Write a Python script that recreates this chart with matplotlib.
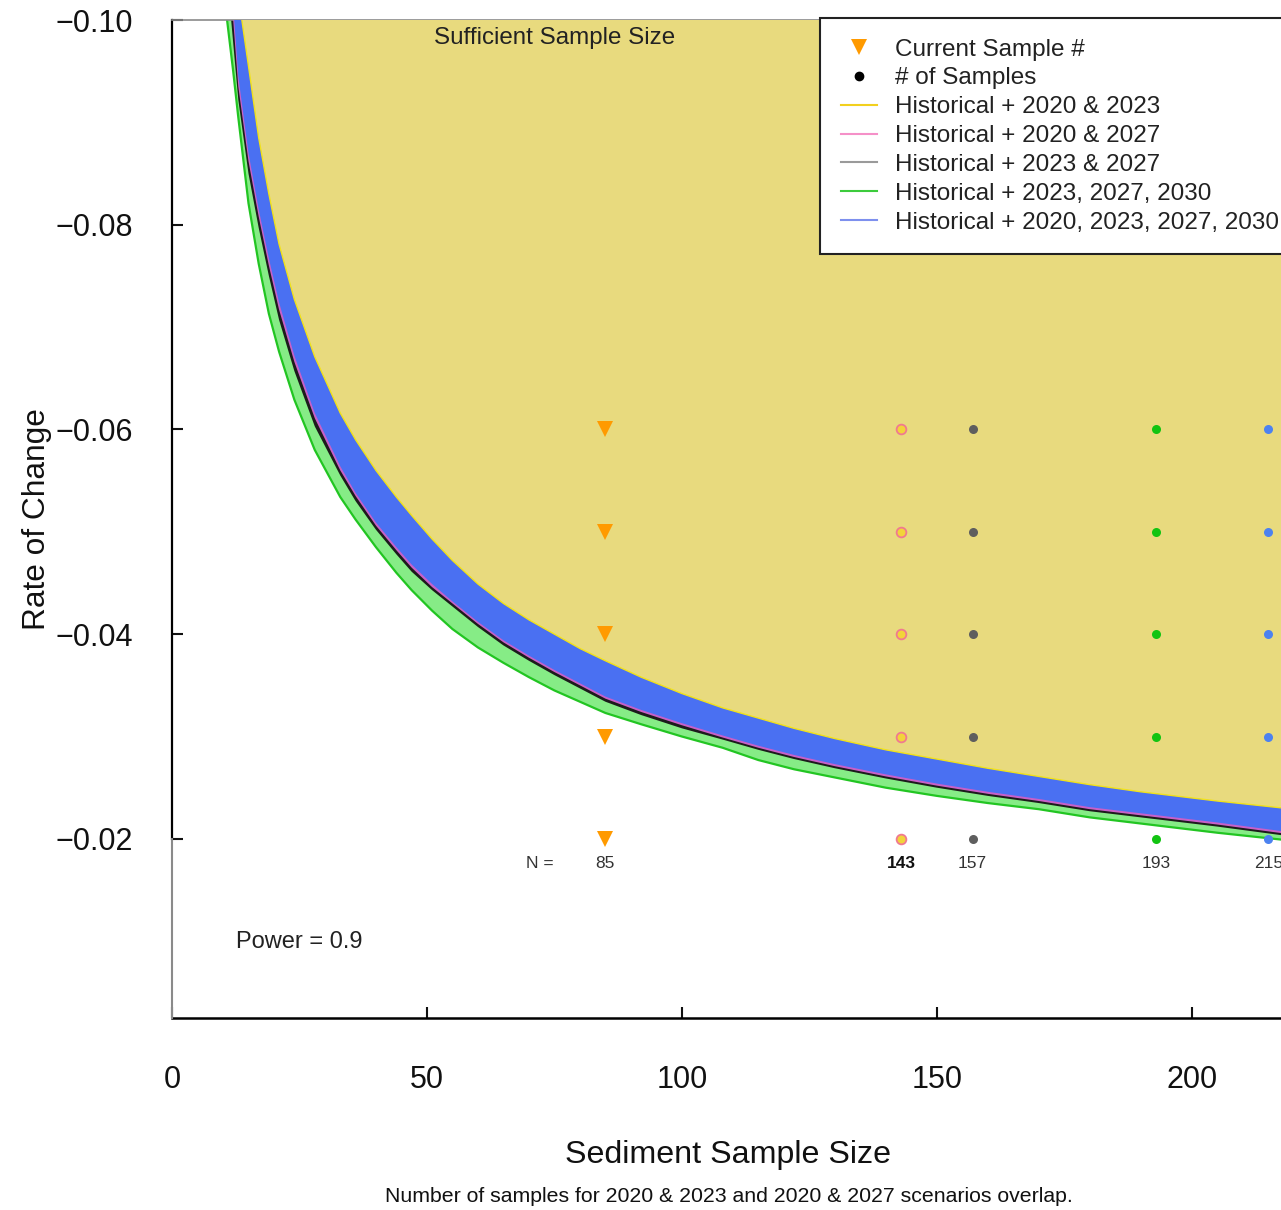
import matplotlib
matplotlib.use('Agg')
import matplotlib.pyplot as plt
from matplotlib.lines import Line2D

plt.rcParams['font.family'] = ['Liberation Sans', 'DejaVu Sans']

# ---- boundary curves (sample size n, rate of change r) ----
yel_n = [13.7, 15, 17, 19, 21, 24, 28, 33, 36, 40, 44, 47, 51, 55, 60, 65, 70, 75, 80, 85,
         92, 100, 108, 115, 122, 130, 140, 150, 160, 170, 180, 190, 205, 220]
yel_r = [-0.1000, -0.0955, -0.0885, -0.0830, -0.0781, -0.0727, -0.0671, -0.0616, -0.0590, -0.0560,
         -0.0534, -0.0516, -0.0493, -0.0472, -0.0449, -0.0430, -0.0414, -0.0400, -0.0386, -0.0374,
         -0.0358, -0.0342, -0.0328, -0.0318, -0.0308, -0.0298, -0.0287, -0.0278, -0.0269, -0.0261,
         -0.0253, -0.0246, -0.0237, -0.0229]

tail_n = [33, 36, 40, 44, 47, 51, 55, 60, 65, 70, 75, 80, 85, 92, 100, 108, 115, 122, 130, 140,
          150, 160, 170, 180, 190, 205, 220]

blu_n = [12.2, 13, 15, 17, 19, 21, 24, 28] + tail_n
blu_r = [-0.1000, -0.0945, -0.0870, -0.0815, -0.0767, -0.0724, -0.0672, -0.0616,
         -0.0564, -0.0538, -0.0509, -0.0485, -0.0468, -0.0449, -0.0432, -0.0412, -0.0394, -0.0379,
         -0.0365, -0.0352, -0.0339, -0.0326, -0.0313, -0.0301, -0.0291, -0.0282, -0.0273, -0.0263,
         -0.0254, -0.0246, -0.0239, -0.0231, -0.0225, -0.0216, -0.0206]

pnk_n = [12.0, 13, 15, 17, 19, 21, 24, 28] + tail_n
pnk_r = [-0.1000, -0.0935, -0.0862, -0.0808, -0.0760, -0.0717, -0.0666, -0.0611,
         -0.0560, -0.0535, -0.0506, -0.0482, -0.0465, -0.0446, -0.0430, -0.0410, -0.0392, -0.0377,
         -0.0363, -0.0350, -0.0337, -0.0324, -0.0311, -0.0299, -0.0289, -0.0280, -0.0271, -0.0261,
         -0.0252, -0.0244, -0.0237, -0.0229, -0.0223, -0.0214, -0.0204]

gry_n = [11.6, 13, 15, 17, 19, 21, 24, 28] + tail_n
gry_r = [-0.1000, -0.0922, -0.0850, -0.0797, -0.0750, -0.0707, -0.0657, -0.0603,
         -0.0555, -0.0530, -0.0502, -0.0478, -0.0461, -0.0443, -0.0427, -0.0407, -0.0389, -0.0374,
         -0.0360, -0.0347, -0.0334, -0.0321, -0.0308, -0.0297, -0.0287, -0.0278, -0.0269, -0.0259,
         -0.0250, -0.0242, -0.0235, -0.0227, -0.0221, -0.0212, -0.0202]

grn_n = [10.8, 12, 13, 15, 17, 19, 21, 24, 28] + tail_n
grn_r = [-0.1000, -0.0950, -0.0905, -0.0821, -0.0762, -0.0713, -0.0676, -0.0629, -0.0580,
         -0.0534, -0.0512, -0.0485, -0.0460, -0.0443, -0.0423, -0.0405, -0.0387, -0.0372, -0.0358,
         -0.0345, -0.0334, -0.0323, -0.0312, -0.0300, -0.0289, -0.0277, -0.0268, -0.0260, -0.0250,
         -0.0242, -0.0235, -0.0229, -0.0221, -0.0215, -0.0206, -0.0198]

# ---- sample points ----
rates = [-0.06, -0.05, -0.04, -0.03, -0.02]
current_n = 85
scen_n = [143, 157, 193, 215]
scen_labels = ['143', '157', '193', '215']

legend_labels = ['Current Sample #', '# of Samples', 'Historical + 2020 & 2023', 'Historical + 2020 & 2027',
                 'Historical + 2023 & 2027', 'Historical + 2023, 2027, 2030', 'Historical + 2020, 2023, 2027, 2030']

xticks = [0, 50, 100, 150, 200]
yticks = [-0.10, -0.08, -0.06, -0.04, -0.02]
ytick_labels = ['\u22120.10', '\u22120.08', '\u22120.06', '\u22120.04', '\u22120.02']

W, H = 1281, 1210
fig = plt.figure(figsize=(W / 100, H / 100), dpi=100)
ax = fig.add_axes([172 / W, (H - 1018) / H, (W - 172) / W, (1018 - 20) / H])
ax.set_xlim(0, 217.5)
ax.set_ylim(-0.0025, -0.10)

TOP = -0.10


def region(ns, rs, face, z):
    xs = list(ns) + [ns[-1], ns[0]]
    ys = list(rs) + [TOP, TOP]
    ax.fill(xs, ys, facecolor=face, edgecolor='none', zorder=z)


region(grn_n, grn_r, '#86EC86', 1)
ax.plot(grn_n, grn_r, color='#22C522', lw=1.6, zorder=1.1)
region(gry_n, gry_r, '#1c1c1c', 2)
region(pnk_n, pnk_r, '#C860C8', 3)
region(blu_n, blu_r, '#4A70F2', 4)
region(yel_n, yel_r, '#E8DA7E', 5)
ax.plot(yel_n, yel_r, color='#F2E21A', lw=1.0, zorder=5.1)

# markers
ax.plot([current_n] * len(rates), rates, linestyle='none', marker='v', markersize=11,
        color='#FF9A00', markeredgewidth=0, zorder=6)
ax.plot([scen_n[0]] * len(rates), rates, linestyle='none', marker='o', markersize=7,
        markerfacecolor='#F2D43A', markeredgecolor='#F07A90', markeredgewidth=1.3, zorder=6)
ax.plot([scen_n[1]] * len(rates), rates, linestyle='none', marker='o', markersize=6.5,
        color='#5E5E5E', markeredgewidth=0, zorder=6)
ax.plot([scen_n[2]] * len(rates), rates, linestyle='none', marker='o', markersize=6.5,
        color='#12C412', markeredgewidth=0, zorder=6)
ax.plot([scen_n[3]] * len(rates), rates, linestyle='none', marker='o', markersize=6.5,
        color='#4C82F0', markeredgewidth=0, zorder=6)

# N labels
ax.text(72.2, -0.0176, 'N =', fontsize=12.5, color='#333333', ha='center', va='center', zorder=7)
ax.text(current_n, -0.0176, '85', fontsize=12.5, color='#333333', ha='center', va='center', zorder=7)
for n, lab in zip(scen_n, scen_labels):
    ax.text(n, -0.0176, lab, fontsize=12.5, color='#111111' if lab == '143' else '#333333',
            fontweight='bold' if lab == '143' else 'normal', ha='center', va='center', zorder=7)

ax.text(75.1, -0.0982, 'Sufficient Sample Size', fontsize=17.4, color='#222222',
        ha='center', va='center', zorder=7)
ax.text(12.55, -0.00995, 'Power = 0.9', fontsize=17, color='#222222', ha='left', va='center', zorder=7)

# axes styling
ax.spines['right'].set_visible(False)
ax.spines['top'].set_color('#8a8a8a')
ax.spines['top'].set_linewidth(1.2)
ax.spines['left'].set_bounds(-0.10, -0.02)
ax.spines['left'].set_linewidth(1.6)
ax.spines['bottom'].set_linewidth(1.8)
ax.plot([0, 0], [-0.02, -0.0025], color='#8a8a8a', lw=1.5, clip_on=False, zorder=8)

ax.set_xticks(xticks)
ax.set_xticklabels([str(v) for v in xticks])
ax.set_yticks(yticks)
ax.set_yticklabels(ytick_labels)
ax.tick_params(axis='both', direction='in', length=8, width=1.5, labelsize=22, colors='#111111')
ax.tick_params(axis='x', pad=34)
ax.tick_params(axis='y', pad=28)

fig.text(728 / W, 1 - 1155 / H, 'Sediment Sample Size', fontsize=23.2, ha='center', va='center', color='#111111')
fig.text(729 / W, 1 - 1196 / H, 'Number of samples for 2020 & 2023 and 2020 & 2027 scenarios overlap.',
         fontsize=15.3, ha='center', va='center', color='#111111')
fig.text(37 / W, 1 - 519 / H, 'Rate of Change', fontsize=22.8, rotation=90, ha='center', va='center',
         color='#111111')

handles = [
    Line2D([], [], linestyle='none', marker='v', color='#FF9A00', markersize=11, markeredgewidth=0),
    Line2D([], [], linestyle='none', marker='o', color='black', markersize=6),
    Line2D([], [], color='#F2D01E', lw=1.5),
    Line2D([], [], color='#F590C8', lw=1.5),
    Line2D([], [], color='#9A9A9A', lw=1.5),
    Line2D([], [], color='#3CCB3C', lw=1.5),
    Line2D([], [], color='#7E90EE', lw=1.5),
]
leg = fig.legend(handles, legend_labels, loc='upper left', bbox_to_anchor=(820 / W, 1 - 18 / H),
                 bbox_transform=fig.transFigure, borderaxespad=0, frameon=True, fancybox=False,
                 fontsize=17.5, handlelength=1.5, handletextpad=0.75, labelspacing=0.28, borderpad=0.85,
                 framealpha=1.0, facecolor='white')
leg.get_frame().set_edgecolor('#222222')
leg.get_frame().set_linewidth(1.5)
for t in leg.get_texts():
    t.set_color('#222222')

fig.savefig('out.png', dpi=100)
